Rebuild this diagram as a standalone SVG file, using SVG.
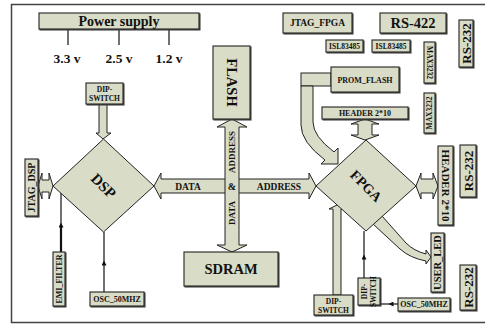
<svg xmlns="http://www.w3.org/2000/svg" width="485" height="324" viewBox="0 0 485 324">
<defs>
<style>
.box{fill:#d9dcc6;stroke:#222;stroke-width:1.1}
.shp{fill:#d9dcc6;stroke:#222;stroke-width:1;stroke-linejoin:miter}
.t{font-family:"Liberation Serif","Times New Roman",serif;font-weight:bold;fill:#111;text-anchor:middle}
.ln{stroke:#111;stroke-width:1.2;fill:none}
.frame{fill:none;stroke:#444;stroke-width:1.5}
</style>
<filter id="sh" x="-10%" y="-10%" width="130%" height="130%">
<feDropShadow dx="1" dy="1" stdDeviation="0" flood-color="#444"/>
</filter>
<marker id="tri" viewBox="0 0 6 6" refX="3" refY="3" markerWidth="5" markerHeight="5" orient="auto" markerUnits="userSpaceOnUse">
<path d="M0,0 L6,3 L0,6 Z" fill="#111"/>
</marker>
</defs>
<rect width="485" height="324" fill="#fff"/>
<rect class="frame" x="11.5" y="4.5" width="490" height="318"/>

<g id="connectors">
<line class="ln" x1="68" y1="29" x2="68" y2="45"/>
<line class="ln" x1="119" y1="29" x2="119" y2="45"/>
<line class="ln" x1="169" y1="29" x2="169" y2="45"/>
<!-- DIP-SWITCH to DSP -->
<path class="shp" d="M99,104 L107,104 L107,133 L111,133 L103,139 L96,133 L99,133 Z"/>
<!-- JTAG_DSP double arrow -->
<path class="shp" d="M38,186 L42,173 L42,180 L49,180 L49,173 L53,186 L49,199 L49,192 L42,192 L42,199 Z"/>
<!-- EMI_FILTER -->
<line x1="61" y1="252" x2="61" y2="225" stroke="#111" stroke-width="2.2" marker-end="url(#tri)"/>
<line class="ln" x1="61" y1="225" x2="61" y2="193"/>
<!-- OSC left -->
<line class="ln" x1="104" y1="292" x2="104" y2="263" marker-end="url(#tri)"/>
<line class="ln" x1="104" y1="263" x2="104" y2="232"/>
<!-- DATA/ADDRESS horizontal -->
<path class="shp" d="M154,186 L161,173 L161,179 L309,179 L309,173 L316,186 L309,199 L309,193 L161,193 L161,199 Z"/>
<!-- vertical ADDRESS & DATA -->
<path class="shp" d="M232,119 L247,127 L239,127 L239,245 L247,245 L232,252 L217,245 L225,245 L225,127 L217,127 Z"/>
<!-- PROM_FLASH curved arrow -->
<rect class="shp" x="301" y="73" width="30" height="13"/>
<path class="shp" d="M301,86 L301,125 Q301,142 325,160 L321,164 L338,164 L338,148 L334,152 Q313,136 313,122 L313,86 Z"/>
<!-- HEADER top double arrow -->
<path class="shp" d="M365,119 L379,124 L372,124 L372,135 L379,135 L365,140 L351,135 L358,135 L358,124 L351,124 Z"/>
<!-- HEADER right double arrow -->
<path class="shp" d="M416,186 L421,173 L421,179 L433,179 L433,173 L438,186 L433,199 L433,193 L421,193 L421,199 Z"/>
<!-- USER_LED curved arrow -->
<path class="shp" d="M373,224 L400,249 Q410,258 426,261 L426,264 L431,257 L426,250 L426,254 Q414,251 406,243 L382,216 Z"/>
<!-- DIP-SWITCH bottom to FPGA -->
<path class="shp" d="M333,295 L333,209 L329,209 L337,205 L345,209 L341,209 L341,295 Z"/>
<!-- DIP-SWITCH vertical to FPGA -->
<line class="ln" x1="364" y1="278" x2="364" y2="257" marker-end="url(#tri)"/>
<line class="ln" x1="364" y1="257" x2="364" y2="231"/>
<!-- OSC right -->
<line class="ln" x1="398" y1="304" x2="391" y2="304" marker-end="url(#tri)"/>
<line class="ln" x1="391" y1="304" x2="380" y2="304"/>
<text class="t" x="188" y="189.5" font-size="9.5">DATA</text>
<text class="t" x="279" y="189.5" font-size="9.5">ADDRESS</text>
<text class="t" x="232" y="190" font-size="10">&amp;</text>
<text class="t" font-size="9" transform="translate(235,152) rotate(-90)">ADDRESS</text>
<text class="t" font-size="9" transform="translate(235,213) rotate(-90)">DATA</text>
</g>

<g id="power">
<rect class="box" x="39" y="13" width="160" height="16" filter="url(#sh)"/>
<text class="t" x="119" y="26" font-size="14">Power supply</text>
<text class="t" x="67" y="63" font-size="13.5">3.3 v</text>
<text class="t" x="119" y="63" font-size="13.5">2.5 v</text>
<text class="t" x="169" y="63" font-size="13.5">1.2 v</text>
</g>
<g id="dip-left">
<rect class="box" x="86" y="83" width="37" height="21" filter="url(#sh)"/>
<text class="t" x="104.5" y="92" font-size="7.5">DIP-</text>
<text class="t" x="104.5" y="101" font-size="7.5">SWITCH</text>
</g>
<g id="dsp">
<path class="shp" d="M103.5,139 L154,186 L103.5,232 L53,186 Z"/>
<text class="t" font-size="15" transform="translate(103.5,186) rotate(45)" y="5">DSP</text>
</g>
<g id="jtag-dsp">
<rect class="box" x="25" y="159" width="13" height="57" filter="url(#sh)"/>
<text class="t" font-size="10" transform="translate(35,187.5) rotate(-90)">JTAG_DSP</text>
</g>
<g id="emi-filter">
<rect class="box" x="53" y="252" width="12" height="54" filter="url(#sh)"/>
<text class="t" font-size="8" transform="translate(61.8,279) rotate(-90)">EMI_FILTER</text>
</g>
<g id="osc-left">
<rect class="box" x="90" y="292" width="54" height="14" filter="url(#sh)"/>
<text class="t" x="117" y="301.8" font-size="8">OSC_50MHZ</text>
</g>
<g id="flash">
<rect class="box" x="213" y="46" width="37" height="73" filter="url(#sh)"/>
<text class="t" font-size="14.5" transform="translate(226.7,82.5) rotate(90)">FLASH</text>
</g>
<g id="sdram">
<rect class="box" x="184" y="252" width="94" height="34" filter="url(#sh)"/>
<text class="t" x="231" y="274" font-size="14.5">SDRAM</text>
</g>
<g id="jtag-fpga">
<rect class="box" x="283" y="13" width="69" height="20" filter="url(#sh)"/>
<text class="t" x="317.5" y="26" font-size="9.5">JTAG_FPGA</text>
</g>
<g id="rs422">
<rect class="box" x="380" y="13" width="66" height="20" filter="url(#sh)"/>
<text class="t" x="413" y="28" font-size="14.5">RS-422</text>
</g>
<g id="isl1">
<rect class="box" x="326" y="40" width="37" height="12" filter="url(#sh)"/>
<text class="t" x="344.5" y="48.7" font-size="7.5">ISL83485</text>
</g>
<g id="isl2">
<rect class="box" x="372" y="40" width="38" height="12" filter="url(#sh)"/>
<text class="t" x="391" y="48.7" font-size="7.5">ISL83485</text>
</g>
<g id="max1">
<rect class="box" x="424" y="42" width="11" height="41" filter="url(#sh)"/>
<text class="t" font-size="7.5" transform="translate(427,62.5) rotate(90)">MAX3232</text>
</g>
<g id="max2">
<rect class="box" x="424" y="93" width="11" height="40" filter="url(#sh)"/>
<text class="t" font-size="7.5" transform="translate(432,113) rotate(-90)">MAX3232</text>
</g>
<g id="rs232a">
<rect class="box" x="459" y="20" width="14" height="47" filter="url(#sh)"/>
<text class="t" font-size="13" transform="translate(470.5,43.5) rotate(-90)">RS-232</text>
</g>
<g id="prom-flash">
<rect class="box" x="331" y="67" width="68" height="25" filter="url(#sh)"/>
<text class="t" x="365" y="82.5" font-size="8">PROM_FLASH</text>
</g>
<g id="header-top">
<rect class="box" x="322" y="107" width="86" height="12" filter="url(#sh)"/>
<text class="t" x="365" y="115.8" font-size="8">HEADER 2*10</text>
</g>
<g id="fpga">
<path class="shp" d="M366,140 L416,186 L366,231 L316,186 Z"/>
<text class="t" font-size="14" transform="translate(366,186) rotate(45)" y="4.7">FPGA</text>
</g>
<g id="rs232b">
<rect class="box" x="460" y="145" width="16" height="52" filter="url(#sh)"/>
<text class="t" font-size="13" transform="translate(472.5,171) rotate(-90)">RS-232</text>
</g>
<g id="header-right">
<rect class="box" x="438" y="146" width="15" height="79" filter="url(#sh)"/>
<text class="t" font-size="11" transform="translate(442,185.5) rotate(90)">HEADER 2*10</text>
</g>
<g id="user-led">
<rect class="box" x="431" y="233" width="13" height="59" filter="url(#sh)"/>
<text class="t" font-size="10.5" transform="translate(441,262.5) rotate(-90)">USER_LED</text>
</g>
<g id="dip-bottom">
<rect class="box" x="314" y="295" width="39" height="20" filter="url(#sh)"/>
<text class="t" x="333.5" y="303.5" font-size="7.5">DIP-</text>
<text class="t" x="333.5" y="312.5" font-size="7.5">SWITCH</text>
</g>
<g id="dip-vertical">
<rect class="box" x="358" y="278" width="22" height="27" filter="url(#sh)"/>
<text class="t" font-size="7.5" transform="translate(367,291.5) rotate(-90)">DIP-</text>
<text class="t" font-size="7.5" transform="translate(376,291.5) rotate(-90)">SWITCH</text>
</g>
<g id="osc-right">
<rect class="box" x="398" y="298" width="52" height="13" filter="url(#sh)"/>
<text class="t" x="424" y="307.3" font-size="8">OSC_50MHZ</text>
</g>
<g id="rs232c">
<rect class="box" x="460" y="265" width="16" height="45" filter="url(#sh)"/>
<text class="t" font-size="13" transform="translate(472.5,287.5) rotate(-90)">RS-232</text>
</g>
</svg>
